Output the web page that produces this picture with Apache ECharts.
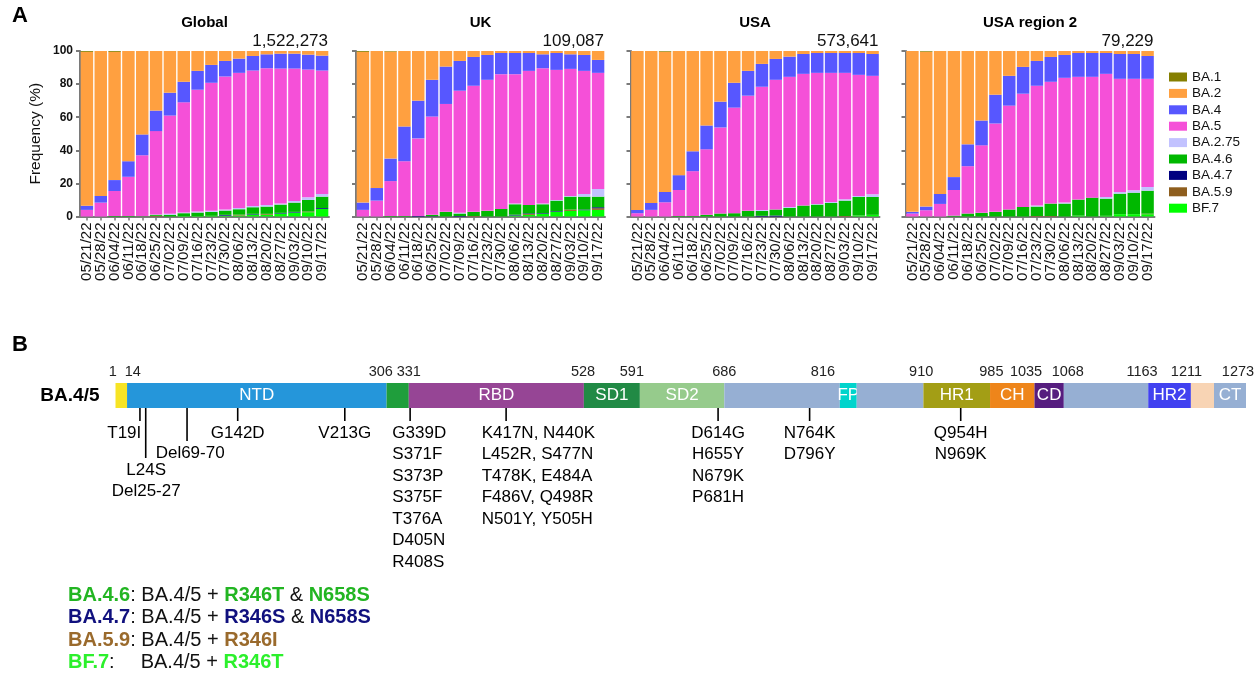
<!DOCTYPE html>
<html>
<head>
<meta charset="utf-8">
<script src="https://cdn.jsdelivr.net/npm/echarts@6/dist/echarts.min.js"></script>
<style>
  html, body { margin: 0; padding: 0; background: #fff; }
  #chart { width: 1256px; height: 678px; }
</style>
</head>
<body>
<div id="chart"></div>
<script>
// ---- data ----
const weeks = ['05/21/22', '05/28/22', '06/04/22', '06/11/22', '06/18/22', '06/25/22',
  '07/02/22', '07/09/22', '07/16/22', '07/23/22', '07/30/22', '08/06/22',
  '08/13/22', '08/20/22', '08/27/22', '09/03/22', '09/10/22', '09/17/22'];
const variants = ['BA.1', 'BA.2', 'BA.4', 'BA.5', 'BA.2.75', 'BA.4.6', 'BA.4.7', 'BA.5.9', 'BF.7'];
const regions = ['Global', 'UK', 'USA', 'USA region 2'];
const regionTotals = ['1,522,273', '109,087', '573,641', '79,229'];

// frequency (%) per variant (rows in the order of `variants`), one column per week
const globalShares = [
  [0.5, 0, 0.5, 0, 0, 0, 0, 0, 0, 0, 0, 0, 0, 0, 0, 0, 0, 0],
  [93, 87.6, 77.5, 66.6, 50.4, 36, 25.2, 18.6, 12, 8.4, 6, 4.6, 3, 2, 1.6, 1.6, 2.2, 2.8],
  [2.5, 4, 6.6, 9.4, 12.6, 12.4, 13.8, 12.4, 11.4, 10.8, 9.4, 8.6, 8.8, 8.4, 9, 9, 9, 9],
  [4, 8.4, 15.1, 23.7, 36.8, 50.4, 59.4, 66.6, 73.6, 77.4, 80.4, 81.6, 81.8, 82.6, 81.6, 80, 77.2, 74.6],
  [0, 0, 0, 0, 0, 0.2, 0.6, 0.4, 0.6, 0.6, 0.6, 0.8, 0.8, 1, 0.6, 1, 1.6, 1.6],
  [0, 0, 0.3, 0.3, 0.2, 0.6, 1, 1.7, 2.1, 2.4, 2.6, 3.3, 4, 4.4, 5, 5.6, 7, 6.9],
  [0, 0, 0, 0, 0, 0, 0, 0, 0, 0, 0.5, 0, 0.4, 0, 0.4, 0.4, 0, 0.5],
  [0, 0, 0, 0, 0, 0.4, 0, 0, 0, 0, 0, 0.5, 0, 0.5, 0, 0, 0.4, 0],
  [0, 0, 0, 0, 0, 0, 0, 0.3, 0.3, 0.4, 0.5, 0.6, 1.2, 1.1, 1.8, 2.4, 2.6, 4.6]
];
const ukShares = [
  [0.5, 0, 0.3, 0, 0, 0, 0, 0, 0, 0, 0, 0, 0, 0, 0, 0, 0, 0],
  [91.1, 82.8, 64.7, 45.6, 30, 17.4, 9.4, 6, 3.6, 2.4, 1.2, 1.2, 1.2, 2, 1.2, 2, 2.4, 5.4],
  [4.4, 7.6, 13.6, 21, 22.8, 22.2, 22.6, 18, 17.4, 15, 12.8, 12.8, 10.8, 8.4, 10.2, 8.8, 9.6, 7.8],
  [4, 9.6, 21.1, 33.1, 46.9, 59.4, 65.2, 73.8, 76.2, 79.2, 81.4, 78.2, 81, 81.8, 78.6, 76.8, 74.4, 70.2],
  [0, 0, 0, 0, 0, 0, 0, 0.4, 0, 0, 0, 0.4, 0, 0.4, 0.4, 0.4, 1.6, 4.6],
  [0, 0, 0.3, 0.3, 0, 0.8, 2.8, 1.5, 2.5, 3.4, 4.6, 6.3, 5.1, 5.4, 6.4, 7.8, 7.8, 6.4],
  [0, 0, 0, 0, 0.3, 0.2, 0, 0.3, 0, 0, 0, 0.5, 0.4, 0.4, 0.4, 0, 0.4, 0.6],
  [0, 0, 0, 0, 0, 0, 0, 0, 0.3, 0, 0, 0, 0.5, 0, 0, 0.8, 0, 1],
  [0, 0, 0, 0, 0, 0, 0, 0, 0, 0, 0, 0.6, 1, 1.6, 2.8, 3.4, 3.8, 4]
];
const usaShares = [
  [0, 0, 0.4, 0, 0, 0, 0, 0, 0, 0, 0, 0, 0, 0, 0, 0, 0, 0],
  [96, 91.8, 84.8, 75, 60.6, 45, 30.6, 19.2, 12, 7.8, 4.8, 3.4, 1.8, 1.2, 1.2, 1.2, 1.2, 1.8],
  [2, 4.2, 6.2, 9, 12, 14.4, 15.6, 15, 15, 13.8, 12.6, 12.2, 12, 12, 12, 12, 13.2, 13.2],
  [2, 4, 8.6, 15.7, 27.1, 39.6, 52, 63.8, 69.6, 74.4, 78.4, 78.6, 79.6, 79.2, 78, 76.4, 73.2, 71.6],
  [0, 0, 0, 0, 0, 0, 0, 0, 0, 0.6, 0, 0.6, 0, 0.4, 0.6, 0.8, 0.6, 1.6],
  [0, 0, 0, 0.3, 0.3, 1, 1.8, 2, 3.4, 3, 3.6, 5.2, 6.6, 7.2, 8.2, 9.3, 11.2, 10.8],
  [0, 0, 0, 0, 0, 0, 0, 0, 0, 0.4, 0.6, 0, 0, 0, 0, 0, 0, 0],
  [0, 0, 0, 0, 0, 0, 0, 0, 0, 0, 0, 0, 0, 0, 0, 0.3, 0, 0],
  [0, 0, 0, 0, 0, 0, 0, 0, 0, 0, 0, 0, 0, 0, 0, 0, 0.6, 1]
];
const usa2Shares = [
  [0, 0.4, 0, 0, 0, 0, 0, 0, 0, 0, 0, 0, 0, 0, 0, 0, 0, 0],
  [97.2, 93.6, 86.4, 76.2, 56.4, 42, 26.4, 15, 9.6, 6, 3.6, 2.4, 1.2, 1.2, 1.2, 1.8, 1.8, 3],
  [1, 2.2, 6, 7.8, 13.2, 15, 17.4, 18, 16.2, 15, 15, 13.8, 14.4, 14.4, 12.6, 15, 15, 13.8],
  [1.8, 3.8, 7.6, 15.5, 28.6, 40.8, 53.4, 62.8, 68.4, 72.4, 73.6, 75.4, 74.2, 73, 74.4, 68.4, 67.4, 65.4],
  [0, 0, 0, 0, 0, 0, 0, 0, 0, 0.6, 0, 0.6, 0, 0, 1, 1, 1.4, 2.2],
  [0, 0, 0, 0.5, 1.8, 2.2, 2.8, 4.2, 5.8, 5.7, 7.5, 7.8, 9.7, 11.4, 10.4, 12.4, 13, 13.9],
  [0, 0, 0, 0, 0, 0, 0, 0, 0, 0, 0, 0, 0, 0, 0, 0, 0, 0],
  [0, 0, 0, 0, 0, 0, 0, 0, 0, 0.3, 0.3, 0, 0, 0, 0, 0, 0, 0.3],
  [0, 0, 0, 0, 0, 0, 0, 0, 0, 0, 0, 0, 0.5, 0, 0.4, 1.4, 1.4, 1.4]
];
const regionShares = [globalShares, ukShares, usaShares, usa2Shares];

// spike protein domains (residue ranges)
const domainStarts = [1, 14, 306, 331, 528, 591, 686, 816, 835, 910, 985, 1035, 1068, 1163, 1211, 1237];
const domainEnds = [14, 306, 331, 528, 591, 686, 816, 835, 910, 985, 1035, 1068, 1163, 1211, 1237, 1273];
const domainNames = ['', 'NTD', '', 'RBD', 'SD1', 'SD2', '', 'FP', '', 'HR1', 'CH', 'CD', '', 'HR2', '', 'CT'];
// residue numbers printed above the bar, and the residue where each one is drawn
const rulerMarks = [1, 14, 306, 331, 528, 591, 686, 816, 910, 985, 1035, 1068, 1163, 1211, 1273];
const rulerLabelSites = [-2, 20.5, 299.5, 331, 527, 582, 686, 797, 907.5, 986.5, 1025.5, 1072.5, 1156, 1206, 1264];

// mutations: where the tick is drawn, where its text sits, and the text lines
const mutSites = [28.5, 35, 81.5, 138.5, 259, 332.5, 440.5, 679, 782, 952];
const mutLabelSites = [30, 35.5, 85, 138.5, 259, 312.5, 413, 679, 782, 952];
const mutLabels = [
  ['T19I'],
  ['L24S', 'Del25-27'],
  ['Del69-70'],
  ['G142D'],
  ['V213G'],
  ['G339D', 'S371F', 'S373P', 'S375F', 'T376A', 'D405N', 'R408S'],
  ['K417N, N440K', 'L452R, S477N', 'T478K, E484A', 'F486V, Q498R', 'N501Y, Y505H'],
  ['D614G', 'H655Y', 'N679K', 'P681H'],
  ['N764K', 'D796Y'],
  ['Q954H', 'N969K']
];

// ---- styles / layout ----
const FONT = '"Liberation Sans", Arial, sans-serif';
const variantColors = ['#857F00', '#FFA040', '#5757FF', '#F550D8', '#C2C2FF', '#00B800', '#000080', '#8E5E1E', '#00FF00'];
const domainColors = ['#F7E425', '#2596DA', '#1F9E3C', '#964595', '#218A45', '#96CB8C', '#96AFD3', '#00D4CC',
  '#96AFD3', '#A39E15', '#EE851A', '#561D7F', '#96AFD3', '#4141F0', '#F8D4B4', '#96AFD3'];
const mutLayout = [
  { align: 'right', tick: 13, dy: 25 },
  { align: 'center', tick: 50, dy: 62 },
  { align: 'center', tick: 33, dy: 45 },
  { align: 'center', tick: 13, dy: 25 },
  { align: 'center', tick: 13, dy: 25 },
  { align: 'left', tick: 13, dy: 25 },
  { align: 'left', tick: 13, dy: 25 },
  { align: 'center', tick: 13, dy: 25 },
  { align: 'center', tick: 13, dy: 25 },
  { align: 'center', tick: 13, dy: 25 }
];
const panelLeft = [80, 356, 630.5, 905.5];
const panelWidth = 249;
const panelTop = 51;
const panelHeight = 165.5;
const axisGray = '#7a7a7a';

const grids = panelLeft.map(l => ({ left: l, top: panelTop, width: panelWidth, height: panelHeight }));
grids.push({ left: 115.5, top: 383, width: 1130.5, height: 25 });

const xAxes = panelLeft.map((l, p) => ({
  type: 'category', gridIndex: p, data: weeks,
  axisLine: { lineStyle: { color: axisGray, width: 2 } },
  axisTick: { show: true, alignWithLabel: true, length: 4, lineStyle: { color: axisGray, width: 1.5 } },
  axisLabel: { interval: 0, rotate: 90, fontSize: 15, color: '#111', fontFamily: FONT, margin: 6 }
}));
xAxes.push({ type: 'value', gridIndex: 4, min: 1, max: 1273, show: false });

const yAxes = panelLeft.map((l, p) => ({
  type: 'value', gridIndex: p, min: 0, max: 100, interval: 20,
  name: p === 0 ? 'Frequency (%)' : '',
  nameLocation: 'middle', nameGap: 36, nameRotate: 90,
  nameTextStyle: { fontSize: 15.5, color: '#111', fontFamily: FONT },
  axisLine: { show: true, lineStyle: { color: axisGray, width: 2 } },
  axisTick: { show: true, length: 4, lineStyle: { color: axisGray, width: 2 } },
  splitLine: { show: false },
  axisLabel: { show: p === 0, fontSize: 12, fontWeight: 'bold', color: '#111', fontFamily: FONT, margin: 7 }
}));
yAxes.push({
  type: 'category', gridIndex: 4, data: ['BA.4/5'],
  axisLine: { show: false }, axisTick: { show: false },
  axisLabel: { fontSize: 19, fontWeight: 'bold', color: '#000', fontFamily: FONT, margin: 16 }
});

const series = [];
regionShares.forEach((shares, p) => {
  // stack from the bottom: BF.7 first, BA.1 last
  for (let v = variants.length - 1; v >= 0; v--) {
    series.push({
      type: 'bar', name: variants[v], xAxisIndex: p, yAxisIndex: p, stack: 'r' + p,
      barWidth: '90%', itemStyle: { color: variantColors[v] },
      emphasis: { disabled: true }, data: shares[v]
    });
  }
});

// domains
series.push({
  type: 'custom', xAxisIndex: 4, yAxisIndex: 4,
  data: domainStarts.map((s, i) => [s, domainEnds[i], i]),
  renderItem: (params, api) => {
    const i = api.value(2);
    const a = api.coord([api.value(0), 0]);
    const b = api.coord([api.value(1), 0]);
    const h = api.size([0, 1])[1];
    const children = [{
      type: 'rect',
      shape: { x: a[0], y: a[1] - h / 2, width: b[0] - a[0], height: h },
      style: { fill: domainColors[i] }
    }];
    if (domainNames[i]) {
      children.push({
        type: 'text', x: (a[0] + b[0]) / 2, y: a[1],
        style: { text: domainNames[i], fill: '#fff', fontSize: 17, fontFamily: FONT, align: 'center', verticalAlign: 'middle' }
      });
    }
    return { type: 'group', children };
  }
});

// ruler numbers above the domain bar
series.push({
  type: 'custom', xAxisIndex: 4, yAxisIndex: 4,
  data: rulerMarks.map((v, i) => [rulerLabelSites[i], v]),
  renderItem: (params, api) => {
    const c = api.coord([api.value(0), 0]);
    const h = api.size([0, 1])[1];
    return {
      type: 'text', x: c[0], y: c[1] - h / 2 - 11,
      style: { text: String(api.value(1)), fill: '#222', fontSize: 14.5, fontFamily: FONT, align: 'center', verticalAlign: 'middle' }
    };
  }
});

// mutation ticks and labels
series.push({
  type: 'custom', xAxisIndex: 4, yAxisIndex: 4,
  data: mutSites.map((s, i) => [s, mutLabelSites[i], i]),
  renderItem: (params, api) => {
    const i = api.value(2);
    const lay = mutLayout[i];
    const c = api.coord([api.value(0), 0]);
    const t = api.coord([api.value(1), 0]);
    const bottom = c[1] + api.size([0, 1])[1] / 2;
    const children = [{
      type: 'line',
      shape: { x1: c[0], y1: bottom, x2: c[0], y2: bottom + lay.tick },
      style: { stroke: '#000', lineWidth: 1.6 }
    }];
    mutLabels[i].forEach((txt, j) => {
      children.push({
        type: 'text', x: t[0], y: bottom + lay.dy + j * 21.5,
        style: { text: txt, fill: '#000', fontSize: 17, fontFamily: FONT, align: lay.align, verticalAlign: 'middle' }
      });
    });
    return { type: 'group', children };
  }
});

const variantNotes = [
  { color: '#22B522', text: '{v|BA.4.6}{t|: BA.4/5 + }{v|R346T}{t| & }{v|N658S}' },
  { color: '#10107E', text: '{v|BA.4.7}{t|: BA.4/5 + }{v|R346S}{t| & }{v|N658S}' },
  { color: '#9A6A2C', text: '{v|BA.5.9}{t|: BA.4/5 + }{v|R346I}' },
  { color: '#2CF02C', text: '{v|BF.7}{t|:}{g| }{t|BA.4/5 + }{v|R346T}' }
];

const graphics = [
  { type: 'text', x: 12, y: 16, style: { text: 'A', fontSize: 22, fontWeight: 'bold', fill: '#000', fontFamily: FONT, verticalAlign: 'middle' } },
  { type: 'text', x: 12, y: 345, style: { text: 'B', fontSize: 22, fontWeight: 'bold', fill: '#000', fontFamily: FONT, verticalAlign: 'middle' } }
];
regions.forEach((r, p) => {
  graphics.push({
    type: 'text', x: panelLeft[p] + panelWidth / 2, y: 23,
    style: { text: r, fontSize: 15, fontWeight: 'bold', fill: '#000', fontFamily: FONT, align: 'center', verticalAlign: 'middle' }
  });
  graphics.push({
    type: 'text', x: panelLeft[p] + panelWidth - 1, y: 41,
    style: { text: regionTotals[p], fontSize: 17, fill: '#111', fontFamily: FONT, align: 'right', verticalAlign: 'middle' }
  });
});
variantNotes.forEach((n, k) => {
  graphics.push({
    type: 'text', x: 68, y: 595 + k * 22.5,
    style: {
      text: n.text, fontFamily: FONT, verticalAlign: 'middle',
      rich: {
        v: { fontSize: 20, fontWeight: 'bold', fill: n.color, fontFamily: FONT },
        t: { fontSize: 20, fill: '#111', fontFamily: FONT },
        g: { fontSize: 20, width: 26 }
      }
    }
  });
});

const option = {
  animation: false,
  backgroundColor: '#fff',
  grid: grids,
  xAxis: xAxes,
  yAxis: yAxes,
  legend: {
    data: variants, orient: 'vertical', left: 1164, top: 65,
    icon: 'rect', itemWidth: 18, itemHeight: 9, itemGap: 2.4,
    textStyle: { fontSize: 13.5, lineHeight: 14, color: '#111', fontFamily: FONT },
    selectedMode: false
  },
  graphic: graphics,
  series
};

const chart = echarts.init(document.getElementById('chart'));
chart.setOption(option);
</script>
</body>
</html>
